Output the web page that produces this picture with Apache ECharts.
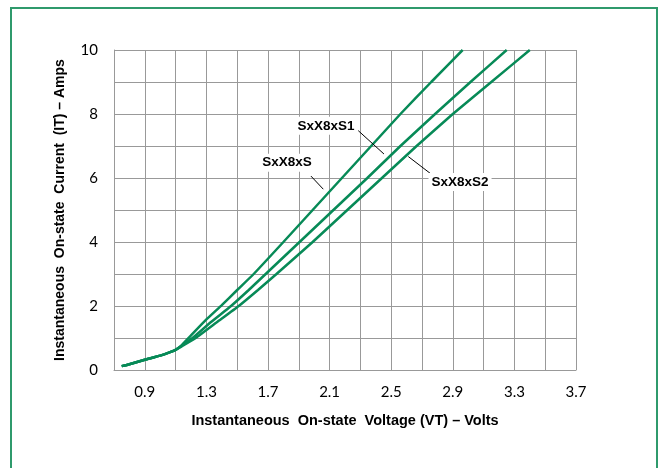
<!DOCTYPE html>
<html>
<head>
<meta charset="utf-8">
<script src="https://cdn.jsdelivr.net/npm/echarts@6/dist/echarts.min.js"></script>
<style>
html,body{margin:0;padding:0;background:#fff;}
#c{width:659px;height:468px;}
</style>
</head>
<body>
<div id="c"></div>
<script>
// Data: [voltage (V), current (A)]
const seriesNames = ['SxX8xS', 'SxX8xS1', 'SxX8xS2'];
const commonStart = [[0.75,0.12],[0.8,0.18],[0.9,0.32],[1.0,0.45],[1.06,0.55],[1.1,0.63]];
const dataS  = [[1.14,0.78],[1.2,1.08],[1.3,1.58],[1.4,2.03],[1.5,2.5],[1.607,3],[1.80,4],[1.99,5],[2.18,6],[2.37,7],[2.56,8],[2.76,9],[2.964,10]];
const dataS1 = [[1.14,0.76],[1.21,1.0],[1.33,1.5],[1.46,2],[1.575,2.5],[1.685,3],[1.905,4],[2.125,5],[2.345,6],[2.56,7],[2.785,8],[3.015,9],[3.25,10]];
const dataS2 = [[1.14,0.74],[1.23,1.0],[1.37,1.5],[1.51,2],[1.635,2.5],[1.755,3],[1.99,4],[2.215,5],[2.44,6],[2.665,7],[2.9,8],[3.15,9],[3.40,10]];
// Annotations in data units: label position, leader line start/end
const labelPos = [[1.823,6.48],[2.077,7.63],[2.947,5.875]];
const leaders = [
  [[1.979,6.06],[2.059,5.65]],
  [[2.286,7.48],[2.453,6.75]],
  [[2.611,6.67],[2.752,6.15]]
];
const xMin = 0.7, xMax = 3.7, xStep = 0.2;
const yMin = 0, yMax = 10, yStep = 1;
const xTitle = 'Instantaneous  On-state  Voltage (VT) – Volts';
const yTitle = 'Instantaneous  On-state  Current  (IT) – Amps';

const green = '#078a57';
const allData = [commonStart.concat(dataS), commonStart.concat(dataS1), commonStart.concat(dataS2)];

const chart = echarts.init(document.getElementById('c'));
const series = allData.map((d, i) => ({
  name: seriesNames[i],
  type: 'line',
  data: d,
  smooth: 0.15,
  showSymbol: false,
  lineStyle: {color: green, width: 2.5},
  itemStyle: {color: green},
  z: 3,
  markLine: {
    silent: true,
    symbol: 'none',
    label: {show: false},
    lineStyle: {color: '#000', width: 1, type: 'solid'},
    data: [[{coord: leaders[i][0]}, {coord: leaders[i][1]}]]
  },
  markPoint: {
    symbol: 'circle',
    symbolSize: 0,
    data: [{coord: labelPos[i], value: seriesNames[i]}],
    label: {
      show: true,
      formatter: seriesNames[i],
      color: '#000',
      fontFamily: 'Liberation Sans, Arial',
      fontWeight: 'bold',
      fontSize: 13.5,
      backgroundColor: '#fff',
      padding: [2, 3],
      position: 'inside'
    }
  }
}));

chart.setOption({
  animation: false,
  backgroundColor: '#fff',
  graphic: [{
    type: 'rect',
    shape: {x: 11, y: 8, width: 646, height: 520},
    style: {fill: 'none', stroke: '#2f9a6c', lineWidth: 2},
    z: 100
  }],
  grid: {left: 114, top: 50, right: 83, bottom: 98, containLabel: false},
  xAxis: {
    type: 'value',
    min: xMin, max: xMax, interval: xStep,
    name: xTitle,
    nameLocation: 'middle',
    nameGap: 43,
    nameTextStyle: {fontFamily: 'Liberation Sans, Arial', fontWeight: 'bold', fontSize: 14.5, color: '#000'},
    axisLine: {show: true, lineStyle: {color: '#999', width: 1}},
    axisTick: {show: false},
    splitLine: {show: true, lineStyle: {color: '#999', width: 1}},
    axisLabel: {
      fontFamily: 'Lato, Open Sans, sans-serif', fontSize: 15, color: '#000', margin: 15,
      formatter: function (v) {
        const k = Math.round((v - xMin) / xStep);
        return k % 2 === 1 ? v.toFixed(1) : '';
      }
    }
  },
  yAxis: {
    type: 'value',
    min: yMin, max: yMax, interval: yStep,
    name: yTitle,
    nameLocation: 'middle',
    nameGap: 47,
    nameTextStyle: {fontFamily: 'Liberation Sans, Arial', fontWeight: 'bold', fontSize: 14, color: '#000'},
    axisLine: {show: true, lineStyle: {color: '#999', width: 1}},
    axisTick: {show: false},
    splitLine: {show: true, lineStyle: {color: '#999', width: 1}},
    axisLabel: {
      fontFamily: 'Lato, Open Sans, sans-serif', fontSize: 15, color: '#000', margin: 16,
      formatter: function (v) {
        const k = Math.round(v);
        return k % 2 === 0 ? String(k) : '';
      }
    }
  },
  series: series
});
</script>
</body>
</html>
